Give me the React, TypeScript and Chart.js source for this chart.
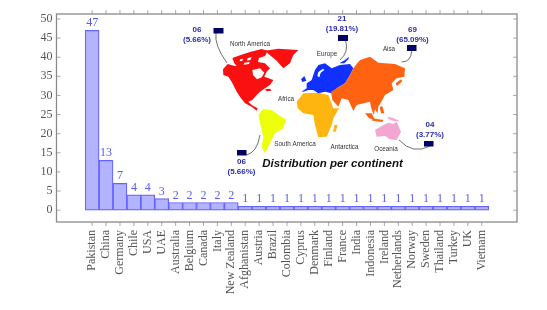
import React, { useEffect, useRef } from "react";
import { Chart, registerables } from "chart.js";

Chart.register(...registerables);

const countries = ["Pakistan","China","Germany","Chile","USA","UAE","Australia","Belgium","Canada","Italy","New Zealand","Afghanistan","Austria","Brazil","Colombia","Cyprus","Denmark","Finland","France","India","Indonesia","Ireland","Netherlands","Norway","Sweden","Thailand","Turkey","UK","Vietnam"];
const counts = [47,13,7,4,4,3,2,2,2,2,2,1,1,1,1,1,1,1,1,1,1,1,1,1,1,1,1,1,1];
const yTickValues = [0,5,10,15,20,25,30,35,40,45,50];

type Pt = number[];
type Blob = { c: string; ox: number; oy: number; pts: Pt[] };

const Z5 = [215, 40];
const Z6 = [295, 50];
const mapShapes: Blob[] = [
  { c: "#fa1010", ox: Z5[0], oy: Z5[1], pts: [[24,88],[38,72],[60,78],[95,78],[110,80],[125,65],[150,70],[165,85],[155,95],[148,110],[175,120],[165,135],[150,145],[135,155],[125,165],[112,180],[100,185],[110,195],[128,205],[125,212],[110,200],[90,190],[78,175],[65,155],[50,125],[40,110],[25,105]] },
  { c: "#fa1010", ox: Z5[0], oy: Z5[1], pts: [[150,32],[190,26],[250,30],[235,45],[225,70],[205,85],[185,62],[165,46]] },
  { c: "#fa1010", ox: Z5[0], oy: Z5[1], pts: [[52,54],[75,46],[105,36],[140,27],[158,32],[150,48],[132,54],[128,68],[110,84],[70,84],[58,70]] },
  { c: "#ffffff", ox: Z5[0], oy: Z5[1], pts: [[112,90],[135,85],[148,98],[140,112],[126,118],[114,105]] },
  { c: "#ffffff", ox: Z5[0], oy: Z5[1], pts: [[76,58],[84,56],[82,62],[74,64]] },
  { c: "#ffffff", ox: Z5[0], oy: Z5[1], pts: [[98,54],[110,52],[106,60],[96,62]] },
  { c: "#ffffff", ox: Z5[0], oy: Z5[1], pts: [[88,68],[104,66],[102,72],[86,74]] },
  { c: "#fa1010", ox: Z5[0], oy: Z5[1], pts: [[150,148],[165,146],[170,152],[155,154]] },
  { c: "#eeff0a", ox: Z5[0], oy: Z5[1], pts: [[130,225],[145,207],[170,210],[195,228],[213,238],[205,265],[180,280],[165,310],[150,340],[140,320],[145,290],[135,250]] },
  { c: "#ffb510", ox: Z6[0], oy: Z6[1], pts: [[5,155],[25,130],[70,128],[100,135],[115,175],[132,175],[115,205],[110,225],[95,260],[70,262],[60,225],[55,195],[25,190],[8,175]] },
  { c: "#ffb510", ox: Z6[0], oy: Z6[1], pts: [[118,225],[128,225],[122,245],[114,245]] },
  { c: "#1030ff", ox: Z6[0], oy: Z6[1], pts: [[20,125],[35,115],[35,100],[50,90],[60,60],[70,45],[90,40],[110,55],[135,45],[165,42],[175,55],[165,75],[150,100],[125,115],[110,130],[90,125],[70,130],[55,120],[40,120],[25,125]] },
  { c: "#ffffff", ox: Z6[0], oy: Z6[1], pts: [[70,66],[84,56],[88,60],[77,68],[73,82],[67,78]] },
  { c: "#1030ff", ox: Z6[0], oy: Z6[1], pts: [[18,88],[28,78],[34,92],[22,96]] },
  { c: "#1030ff", ox: Z6[0], oy: Z6[1], pts: [[133,40],[150,30],[162,20],[160,28],[148,40]] },
  { c: "#ff6210", ox: Z6[0], oy: Z6[1], pts: [[175,55],[195,30],[225,20],[250,38],[300,42],[330,55],[328,80],[305,85],[290,100],[295,120],[270,135],[262,150],[250,170],[240,165],[225,155],[205,160],[185,165],[175,183],[160,150],[140,145],[130,170],[112,150],[108,125],[125,115],[150,100],[165,75]] },
  { c: "#ff6210", ox: Z6[0], oy: Z6[1], pts: [[302,100],[318,88],[322,94],[306,108]] },
  { c: "#ff6210", ox: Z6[0], oy: Z6[1], pts: [[225,155],[250,165],[248,190],[240,178],[236,195],[228,172]] },
  { c: "#ff6210", ox: Z6[0], oy: Z6[1], pts: [[210,190],[230,190],[240,210],[222,205]] },
  { c: "#ff6210", ox: Z6[0], oy: Z6[1], pts: [[232,205],[265,210],[262,216],[232,212]] },
  { c: "#ff6210", ox: Z6[0], oy: Z6[1], pts: [[254,172],[262,168],[268,190],[258,190]] },
  { c: "#f4a6d2", ox: Z6[0], oy: Z6[1], pts: [[240,240],[265,225],[280,218],[295,222],[305,215],[318,245],[305,270],[285,268],[270,258],[245,260]] },
  { c: "#f4a6d2", ox: Z6[0], oy: Z6[1], pts: [[275,200],[295,204],[315,214],[298,214],[282,208]] },
];

const continentNames: [string, number, number][] = [
  ["North America", 250, 44],
  ["Europe", 327, 54],
  ["Aisa", 389, 49.5],
  ["Africa", 286, 99],
  ["South America", 295, 144],
  ["Antarctica", 344.5, 147],
  ["Oceania", 386, 149],
];

const callouts: { lines: string[]; tx: number; ty: number; box: number[]; curve: number[] }[] = [
  { lines: ["06", "(5.66%)"], tx: 197, ty: 30, box: [213.5, 28, 10, 5.5], curve: [216, 33, 214, 45, 227, 63] },
  { lines: ["21", "(19.81%)"], tx: 342, ty: 19, box: [338, 35, 10, 6], curve: [345.7, 41, 349, 52, 340, 60] },
  { lines: ["69", "(65.09%)"], tx: 412.5, ty: 30, box: [407, 45, 9.5, 6], curve: [411.7, 51, 411, 62, 401.7, 62] },
  { lines: ["04", "(3.77%)"], tx: 430, ty: 125, box: [424, 141, 9.5, 5.5], curve: [430, 146, 413, 155, 399, 140] },
  { lines: ["06", "(5.66%)"], tx: 241.5, ty: 162, box: [237, 150, 9.5, 5.5], curve: [260, 135, 257, 153, 246, 155] },
];

const GRAY = "#8a8a8a";

const decorPlugin = {
  id: "decor",
  afterDatasetsDraw(chart: any) {
    const { ctx, chartArea: a, scales } = chart;
    const xs = scales.x;
    const ys = scales.y;
    ctx.save();

    ctx.strokeStyle = "#aaaaaa";
    ctx.lineWidth = 1;
    ctx.beginPath();
    counts.forEach((_, i) => {
      const px = xs.getPixelForValue(i);
      ctx.moveTo(px, a.top);
      ctx.lineTo(px, a.top - 4);
      ctx.moveTo(px, a.bottom);
      ctx.lineTo(px, a.bottom + 4);
    });
    yTickValues.forEach((v) => {
      const py = ys.getPixelForValue(v);
      ctx.moveTo(a.left, py);
      ctx.lineTo(a.left + 4, py);
      ctx.moveTo(a.right, py);
      ctx.lineTo(a.right - 4, py);
    });
    ctx.stroke();

    ctx.strokeStyle = GRAY;
    ctx.lineWidth = 1.3;
    ctx.strokeRect(a.left, a.top, a.right - a.left, a.bottom - a.top);

    ctx.fillStyle = "#5a5aee";
    ctx.font = "12px 'Liberation Serif'";
    ctx.textAlign = "center";
    ctx.textBaseline = "alphabetic";
    counts.forEach((v, i) => {
      ctx.fillText(String(v), xs.getPixelForValue(i), ys.getPixelForValue(v) - 4);
    });

    mapShapes.forEach((s) => {
      ctx.fillStyle = s.c;
      ctx.beginPath();
      s.pts.forEach(([x, y], i) => {
        const px = s.ox + x / 3;
        const py = s.oy + y / 3;
        if (i === 0) ctx.moveTo(px, py);
        else ctx.lineTo(px, py);
      });
      ctx.closePath();
      ctx.fill();
    });

    ctx.fillStyle = "#333333";
    ctx.font = "6.3px 'Liberation Sans'";
    ctx.textBaseline = "middle";
    continentNames.forEach(([t, x, y]) => ctx.fillText(t, x, y));

    callouts.forEach((c) => {
      ctx.strokeStyle = "#333333";
      ctx.lineWidth = 0.7;
      ctx.beginPath();
      ctx.moveTo(c.curve[0], c.curve[1]);
      ctx.quadraticCurveTo(c.curve[2], c.curve[3], c.curve[4], c.curve[5]);
      ctx.stroke();
      ctx.fillStyle = "#000066";
      ctx.fillRect(c.box[0], c.box[1], c.box[2], c.box[3]);
      ctx.fillStyle = "#2a2ab0";
      ctx.font = "bold 8px 'Liberation Sans'";
      c.lines.forEach((l, i) => ctx.fillText(l, c.tx, c.ty + i * 10));
    });

    ctx.fillStyle = "#111111";
    ctx.font = "italic bold 11.5px 'Liberation Sans'";
    ctx.fillText("Distribution per continent", 332.5, 164);
    ctx.restore();
  },
};

export default function App() {
  const ref = useRef<HTMLCanvasElement>(null);
  useEffect(() => {
    const chart = new Chart(ref.current!, {
      type: "bar",
      data: {
        datasets: [
          {
            data: counts.map((v, i) => ({ x: i, y: v })),
            backgroundColor: "#b3b3ff",
            borderColor: "#6464ff",
            borderWidth: 1.2,
            borderSkipped: false,
            barPercentage: 1,
            categoryPercentage: 1,
          },
        ],
      } as any,
      options: {
        responsive: false,
        animation: false,
        layout: { padding: { top: 14, right: 30, left: 0, bottom: 0 } },
        plugins: { legend: { display: false }, tooltip: { enabled: false } },
        scales: {
          x: {
            type: "linear",
            offset: false,
            min: -2.56,
            max: 30.53,
            afterBuildTicks: (s: any) => {
              s.ticks = countries.map((_, i) => ({ value: i }));
            },
            afterFit: (s: any) => {
              s.height = 88;
            },
            grid: { display: false, drawTicks: false, tickLength: 0 },
            border: { display: false },
            ticks: {
              autoSkip: false,
              minRotation: 90,
              maxRotation: 90,
              padding: 8,
              color: "#555555",
              font: { family: "'Liberation Serif'", size: 12 },
              callback: (v: any) => countries[v],
            },
          },
          y: {
            min: -3.1,
            max: 51.3,
            afterBuildTicks: (s: any) => {
              s.ticks = yTickValues.map((v) => ({ value: v }));
            },
            afterFit: (s: any) => {
              s.width = 56.5;
            },
            grid: { display: false, drawTicks: false, tickLength: 0 },
            border: { display: false },
            ticks: {
              padding: 4,
              color: "#555555",
              font: { family: "'Liberation Serif'", size: 12 },
            },
          },
        },
      } as any,
      plugins: [decorPlugin],
    });
    return () => chart.destroy();
  }, []);
  return (
    <canvas
      ref={ref}
      width={547}
      height={310}
      style={{ position: "fixed", left: 0, top: 0, width: 547, height: 310, background: "#fff" }}
    />
  );
}
